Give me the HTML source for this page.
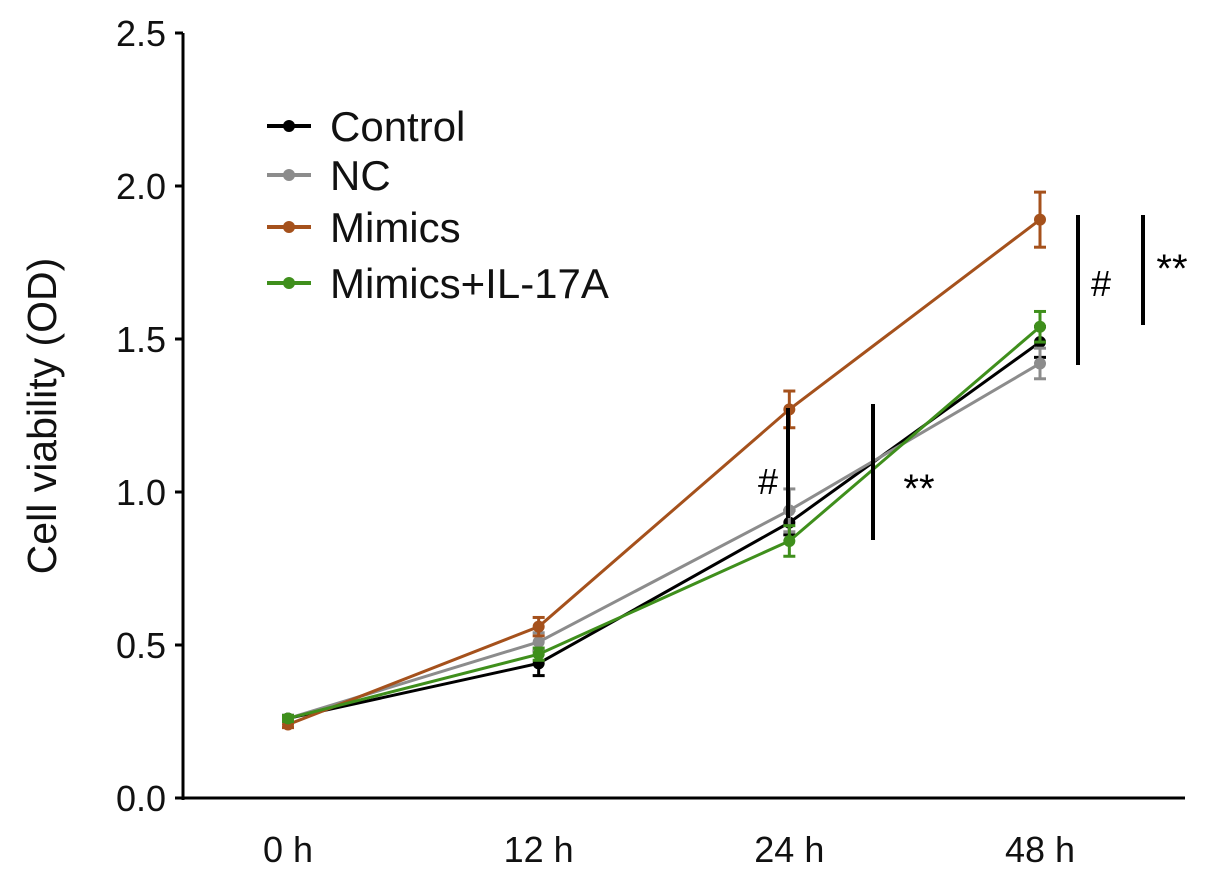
<!DOCTYPE html>
<html><head><meta charset="utf-8"><style>
body{margin:0;background:#fff;}
svg{display:block;font-family:"Liberation Sans",sans-serif;}
</style></head><body>
<svg id="chart" width="1205" height="878" viewBox="0 0 1205 878">
<rect width="1205" height="878" fill="#fff"/>
<g id="axes"></g>
<g id="series"></g>
<g id="sig">
<line x1="788" y1="408" x2="788" y2="518" stroke="#000" stroke-width="4"/>
<text x="768" y="494" font-size="36" text-anchor="middle">#</text>
<line x1="873" y1="404" x2="873" y2="540" stroke="#000" stroke-width="4"/>
<text x="919" y="502" font-size="40" text-anchor="middle">**</text>
<line x1="1078" y1="215" x2="1078" y2="365" stroke="#000" stroke-width="4"/>
<text x="1101" y="296" font-size="36" text-anchor="middle">#</text>
<line x1="1143" y1="215" x2="1143" y2="325" stroke="#000" stroke-width="4"/>
<text x="1172" y="282" font-size="40" text-anchor="middle">**</text>
</g>
<g id="legend"></g>
<text transform="translate(56,416) rotate(-90)" font-size="41" text-anchor="middle" fill="#111">Cell viability (OD)</text>
</svg>
<script>
const categories=["0 h","12 h","24 h","48 h"];
const yTicks=[0,0.5,1.0,1.5,2.0,2.5];
const yTickLabels=["0.0","0.5","1.0","1.5","2.0","2.5"];
const seriesNames=["Control","NC","Mimics","Mimics+IL-17A"];
const seriesColors=["#000000","#8c8c8c","#a5511c","#3f8f1c"];
const controlVals=[0.26,0.44,0.90,1.49];
const ncVals=[0.26,0.51,0.94,1.42];
const mimicsVals=[0.24,0.56,1.27,1.89];
const ilVals=[0.26,0.47,0.84,1.54];
const controlErr=[0.01,0.04,0.04,0.05];
const ncErr=[0.01,0.03,0.07,0.05];
const mimicsErr=[0.01,0.03,0.06,0.09];
const ilErr=[0.01,0.02,0.05,0.05];

const NS="http://www.w3.org/2000/svg";
const xPos=[288,540,790,1040];
function x(i){return xPos[0]+i*(xPos[3]-xPos[0])/3;}
function y(v){return 798-v*306;}
function mk(tag,attrs,parent){const e=document.createElementNS(NS,tag);for(const k in attrs)e.setAttribute(k,attrs[k]);parent.appendChild(e);return e;}
const axes=document.getElementById('axes');
let yl=mk('line',{x1:183,y1:y(2.5),x2:183,y2:800,stroke:'#000','stroke-width':3},axes);


let xl=mk('line',{x1:182,y1:798,x2:1185,y2:798,stroke:'#000','stroke-width':3},axes);


yTicks.forEach((t,i)=>{
  mk('line',{x1:175,y1:y(t),x2:183,y2:y(t),stroke:'#000','stroke-width':3},axes);
  const tx=mk('text',{x:166,y:y(t)+13,'font-size':36,'text-anchor':'end',fill:'#111'},axes);
  tx.textContent=yTickLabels[i];
  
  
});
categories.forEach((c,i)=>{
  const tx=mk('text',{x:x(i),y:862,'font-size':36,'text-anchor':'middle',fill:'#111'},axes);
  tx.textContent=c;
  
  
});
const allVals=[controlVals,ncVals,mimicsVals,ilVals];
const allErr=[controlErr,ncErr,mimicsErr,ilErr];
const sg=document.getElementById('series');
allVals.forEach((vals,s)=>{
  const col=seriesColors[s];
  const g=mk('g',{},sg);
  
  
  const pts=vals.map((v,i)=>x(i)+','+y(v)).join(' ');
  mk('polyline',{points:pts,fill:'none',stroke:col,'stroke-width':3},g);
  vals.forEach((v,i)=>{
    const e=allErr[s][i];
    mk('line',{x1:x(i),y1:y(v+e),x2:x(i),y2:y(v-e),stroke:col,'stroke-width':3},g);
    mk('line',{x1:x(i)-6,y1:y(v+e),x2:x(i)+6,y2:y(v+e),stroke:col,'stroke-width':3},g);
    mk('line',{x1:x(i)-6,y1:y(v-e),x2:x(i)+6,y2:y(v-e),stroke:col,'stroke-width':3},g);
    const c=mk('circle',{cx:x(i),cy:y(v),r:6,fill:col},g);
    
    
  });
});
const lg=document.getElementById('legend');
const legY=[126,175,227,283];
seriesNames.forEach((n,i)=>{
  const g=mk('g',{},lg);
  
  
  mk('line',{x1:267,y1:legY[i],x2:311,y2:legY[i],stroke:seriesColors[i],'stroke-width':4},g);
  mk('circle',{cx:289,cy:legY[i],r:6,fill:seriesColors[i]},g);
  const t=mk('text',{x:330,y:legY[i]+15,'font-size':42,fill:'#111'},g);
  t.textContent=n;
});
</script>
</body></html>
